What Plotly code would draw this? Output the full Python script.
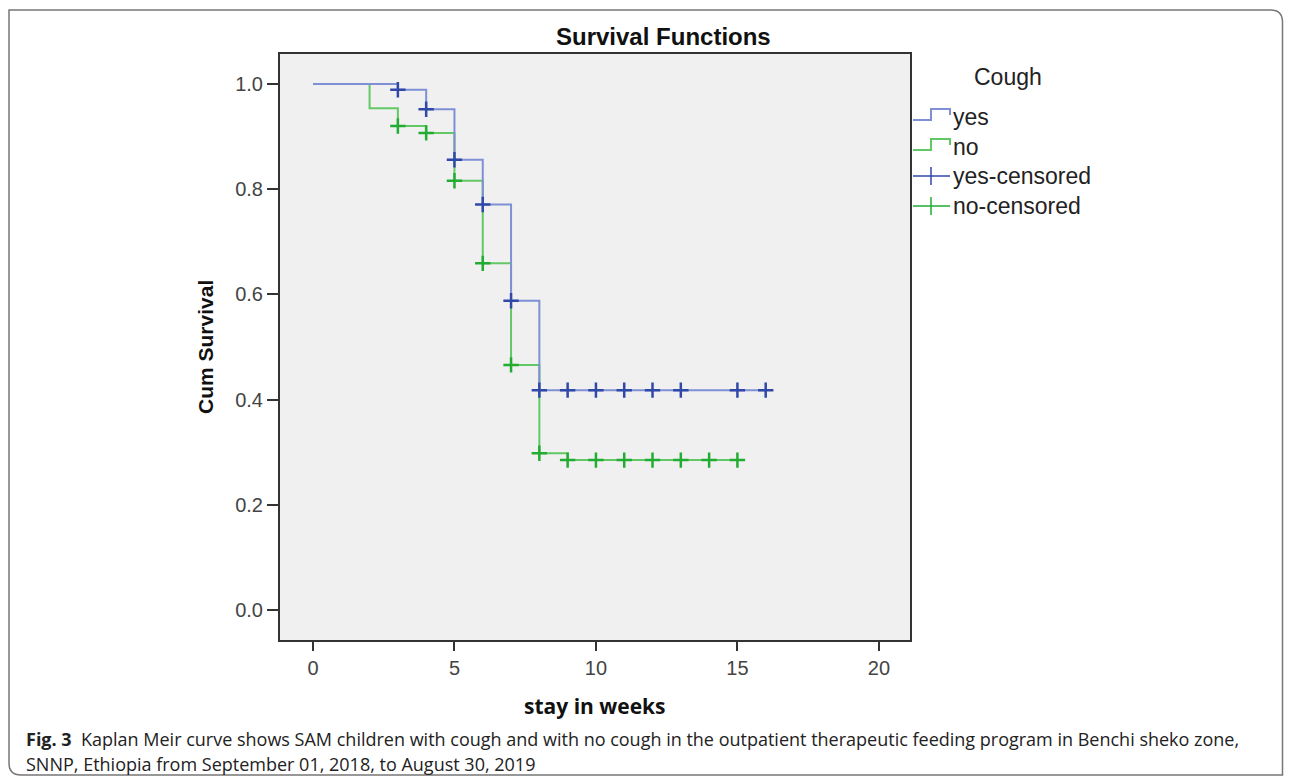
import plotly.graph_objects as go

# ---- data ----
yes_time = [0, 3, 4, 5, 6, 7, 8, 16]
yes_surv = [1.0, 0.989, 0.952, 0.856, 0.771, 0.588, 0.418, 0.418]
no_time = [0, 2, 3, 4, 5, 6, 7, 8, 9, 15]
no_surv = [1.0, 0.954, 0.920, 0.907, 0.816, 0.659, 0.466, 0.298, 0.285, 0.285]

yes_cens_time = [3, 4, 5, 6, 7, 8, 9, 10, 11, 12, 13, 15, 16]
yes_cens_surv = [0.989, 0.952, 0.856, 0.771, 0.588, 0.418, 0.418, 0.418, 0.418, 0.418, 0.418, 0.418, 0.418]
no_cens_time = [3, 4, 5, 6, 7, 8, 9, 10, 11, 12, 13, 14, 15]
no_cens_surv = [0.920, 0.907, 0.816, 0.659, 0.466, 0.298, 0.285, 0.285, 0.285, 0.285, 0.285, 0.285, 0.285]

x_ticks = [0, 5, 10, 15, 20]
y_ticks = [0.0, 0.2, 0.4, 0.6, 0.8, 1.0]
y_tick_labels = ["0.0", "0.2", "0.4", "0.6", "0.8", "1.0"]
legend_labels = ["yes", "no", "yes-censored", "no-censored"]

# ---- style / geometry (reference page pixels) ----
PAGE_W, PAGE_H = 1292, 784
OFF = 8                      # default body margin of the html page
FW, FH = PAGE_W - 2 * OFF, PAGE_H - 2 * OFF
L, R, T, B = 280, 910, 54, 640   # plot box in page pixels
BLUE_LINE = "#7f90d4"
BLUE_MARK = "#3048a8"
GREEN_LINE = "#62c866"
GREEN_MARK = "#22ad32"


def px(x):
    return (x - L) / (R - L)


def py(y):
    return (B - y) / (B - T)


fig = go.Figure()
fig.add_trace(go.Scatter(x=no_time, y=no_surv, mode="lines",
                         line=dict(shape="hv", color=GREEN_LINE, width=2), showlegend=False))
fig.add_trace(go.Scatter(x=yes_time, y=yes_surv, mode="lines",
                         line=dict(shape="hv", color=BLUE_LINE, width=2), showlegend=False))
fig.add_trace(go.Scatter(x=no_cens_time, y=no_cens_surv, mode="markers",
                         marker=dict(symbol="cross-thin", size=11, line=dict(color=GREEN_MARK, width=2.5)),
                         showlegend=False))
fig.add_trace(go.Scatter(x=yes_cens_time, y=yes_cens_surv, mode="markers",
                         marker=dict(symbol="cross-thin", size=11, line=dict(color=BLUE_MARK, width=2.5)),
                         showlegend=False))

x0, x1 = -1.166, 21.1
y0, y1 = -0.057, 1.057

fig.update_layout(
    width=FW, height=FH,
    margin=dict(l=L - OFF, r=FW - (R - OFF), t=T - OFF, b=FH - (B - OFF), pad=0),
    paper_bgcolor="white", plot_bgcolor="#f0f0f0",
    font=dict(family="Liberation Sans, Arial, sans-serif", color="#333"),
    xaxis=dict(range=[x0, x1], tickvals=x_ticks, showgrid=False, zeroline=False,
               showline=True, linecolor="#333", linewidth=2, mirror=True,
               ticks="outside", ticklen=9, tickwidth=2, tickcolor="#333",
               tickfont=dict(size=20, color="#444")),
    yaxis=dict(range=[y0, y1], tickvals=y_ticks, ticktext=y_tick_labels, showgrid=False, zeroline=False,
               showline=True, linecolor="#333", linewidth=2, mirror=True,
               ticks="outside", ticklen=11, tickwidth=2, tickcolor="#333",
               tickfont=dict(size=20, color="#444")),
)

ann = []
ann.append(dict(text="<b>Survival Functions</b>", x=px(663), y=py(37), xref="paper", yref="paper",
                showarrow=False, font=dict(size=24, color="#111", family="Liberation Sans, Arial"),
                xanchor="center", yanchor="middle"))
ann.append(dict(text="<b>Cum Survival</b>", x=px(205), y=py(347), xref="paper", yref="paper",
                showarrow=False, textangle=-90, font=dict(size=21, color="#111", family="Liberation Sans, Arial"),
                xanchor="center", yanchor="middle"))
ann.append(dict(text="<b>stay in weeks</b>", x=px(595), y=py(706), xref="paper", yref="paper",
                showarrow=False, font=dict(size=21, color="#111", family="Open Sans, sans-serif"),
                xanchor="center", yanchor="middle"))
ann.append(dict(text="Cough", x=px(1008), y=py(77), xref="paper", yref="paper",
                showarrow=False, font=dict(size=23, color="#222"), xanchor="center", yanchor="middle"))
leg_y = [117, 147, 176, 206]
for lab, yy in zip(legend_labels, leg_y):
    ann.append(dict(text=lab, x=px(951), y=py(yy), xref="paper", yref="paper",
                    showarrow=False, font=dict(size=23, color="#222"), xanchor="left", yanchor="middle"))

ann.append(dict(text="<b>Fig. 3</b>  Kaplan Meir curve shows SAM children with cough and with no cough in the outpatient therapeutic feeding program in Benchi sheko zone,",
                x=px(24), y=py(739), xref="paper", yref="paper", showarrow=False,
                font=dict(size=18, color="#222", family="Open Sans, sans-serif"), xanchor="left", yanchor="middle"))
ann.append(dict(text="SNNP, Ethiopia from September 01, 2018, to August 30, 2019",
                x=px(24), y=py(764), xref="paper", yref="paper", showarrow=False,
                font=dict(size=18, color="#222", family="Open Sans, sans-serif"), xanchor="left", yanchor="middle"))
fig.update_layout(annotations=ann)

shapes = []
# legend step icons
for yy, col in [(117, BLUE_LINE), (147, GREEN_LINE)]:
    path = (f"M {px(913)},{py(yy + 3)} L {px(931)},{py(yy + 3)} L {px(931)},{py(yy - 8)} "
            f"L {px(950)},{py(yy - 8)} L {px(950)},{py(yy - 2)}")
    shapes.append(dict(type="path", path=path, xref="paper", yref="paper",
                       line=dict(color=col, width=2)))
# legend cross icons
for yy, col in [(176, BLUE_MARK), (206, GREEN_MARK)]:
    shapes.append(dict(type="line", x0=px(913), x1=px(950), y0=py(yy), y1=py(yy), xref="paper", yref="paper",
                       line=dict(color=col, width=1.5)))
    shapes.append(dict(type="line", x0=px(931), x1=px(931), y0=py(yy - 9), y1=py(yy + 9), xref="paper", yref="paper",
                       line=dict(color=col, width=1.5)))

# outer frame with rounded top-right and bottom-left corners
r = 12
fx0, fx1, fy0, fy1 = OFF + 1, PAGE_W - OFF - 1.5, 10, PAGE_H - OFF - 1
frame = (f"M {px(fx0)},{py(fy0)} L {px(fx1 - r)},{py(fy0)} Q {px(fx1)},{py(fy0)} {px(fx1)},{py(fy0 + r)} "
         f"L {px(fx1)},{py(fy1)} L {px(fx0 + r)},{py(fy1)} Q {px(fx0)},{py(fy1)} {px(fx0)},{py(fy1 - r)} Z")
shapes.append(dict(type="path", path=frame, xref="paper", yref="paper",
                   line=dict(color="#777", width=1.5), layer="below"))
fig.update_layout(shapes=shapes)

fig.write_html("out.html")
